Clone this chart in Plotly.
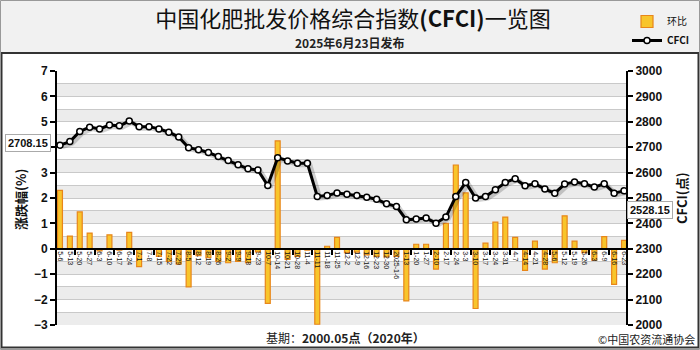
import plotly.graph_objects as go
import numpy as np

# ---------------- data ----------------
dates = ["5-6","5-13","5-20","5-27","6-3","6-10","6-17","6-24","7-1","7-8","7-15","7-22","7-29",
         "8-5","8-12","8-19","8-26","9-2","9-9","9-18","9-23","10-7","10-14","10-21","10-28",
         "11-4","11-11","11-18","11-25","12-2","12-9","12-16","12-23","12-30","2025-1-6",
         "1-13","1-20","1-27","2-10","2-17","2-24","3-3","3-10","3-17","3-24","3-31",
         "4-7","4-14","4-21","4-28","5-6","5-12","5-19","5-26","6-3","6-9","6-16","6-23"]

mom_pct = [2.3, 0.5, 1.45, 0.62, -0.08, 0.55, -0.05, 0.65, -0.7, -0.03, -0.3, -0.5, -0.6,
           -1.5, -0.27, -0.35, -0.5, -0.55, -0.5, -0.55, -0.12, -2.15, 4.25, -0.42, -0.3,
           -0.05, -2.97, 0.1, 0.45, -0.15, -0.13, -0.24, -0.3, -0.32, -0.3,
           -2.05, 0.18, 0.18, -0.8, 1.0, 3.3, 2.2, -2.35, 0.22, 1.05, 1.25,
           0.45, -0.85, 0.3, -0.8, -0.55, 1.3, 0.3, -0.15, -0.45, 0.48, -1.4, 0.33]

cfci = [2708.15, 2722, 2762, 2779, 2772, 2787, 2784, 2803, 2781, 2781, 2772, 2759, 2740,
        2698, 2690, 2679, 2663, 2648, 2631, 2615, 2610, 2549, 2658, 2646, 2637,
        2637, 2506, 2510, 2520, 2515, 2510, 2503, 2495, 2477, 2467,
        2414, 2417, 2421, 2401, 2425, 2506, 2561, 2500, 2506, 2532, 2561,
        2576, 2548, 2556, 2535, 2519, 2555, 2563, 2556, 2543, 2556, 2519, 2528.15]

left_ticks = [-3, -2, -1, 0, 1, 2, 3, 4, 5, 6, 7]
right_ticks = [2000, 2100, 2200, 2300, 2400, 2500, 2600, 2700, 2800, 2900, 3000]

title_text = "中国化肥批发价格综合指数<b>(CFCI)</b>一览图"
subtitle_text = "2025年6月23日发布"
base_text = "基期：<b>2000.05点（2020年）</b>"
copyright_text = "©中国农资流通协会"

# ---------------- layout geometry ----------------
W, H = 700, 350
ML, MR, MT, MB = 57, 74, 71, 25
PW, PH = W - ML - MR, H - MT - MB

def px_x(p):
    return (p - ML) / PW

def px_y(p):
    return (H - MB - p) / PH

idx = np.arange(len(dates))
LAT = "Arial, 'Liberation Sans', sans-serif"
CJK = "'Noto Sans CJK SC', sans-serif"

fig = go.Figure()

fig.add_trace(go.Bar(
    x=idx, y=mom_pct, name="环比", width=0.5,
    marker=dict(color="#f8c52c", line=dict(color="#e8861a", width=1.2)),
    yaxis="y", xaxis="x",
))

# soft shadow of the index line
fig.add_trace(go.Scatter(
    x=idx + 0.25, y=[v - 6 for v in cfci], mode="lines", yaxis="y2", xaxis="x",
    line=dict(color="rgba(0,0,0,0.18)", width=5), showlegend=False, hoverinfo="skip",
))

fig.add_trace(go.Scatter(
    x=idx, y=cfci, name="<b>CFCI</b>", mode="lines+markers", yaxis="y2", xaxis="x",
    line=dict(color="#000000", width=3),
    marker=dict(symbol="circle", size=6, color="#ffffff", line=dict(color="#000000", width=1.5)),
))

shapes = []
# header background
shapes.append(dict(type="rect", xref="paper", yref="paper",
                   x0=px_x(0), x1=px_x(W), y0=px_y(53), y1=px_y(0),
                   fillcolor="#f1f1f1", line=dict(width=0), layer="below"))
# grey bands
for k in np.arange(-3, 7, 1.0):
    shapes.append(dict(type="rect", xref="paper", yref="y", x0=0, x1=1,
                       y0=k, y1=k + 0.5, fillcolor="#ececec",
                       line=dict(width=0), layer="below"))
# frame of the lower area
shapes.append(dict(type="rect", xref="paper", yref="paper",
                   x0=px_x(1.5), x1=px_x(698.5), y0=px_y(347.5), y1=px_y(53),
                   line=dict(color="#333333", width=2), fillcolor="rgba(0,0,0,0)"))
# outer border
shapes.append(dict(type="rect", xref="paper", yref="paper",
                   x0=px_x(0.5), x1=px_x(699.5), y0=px_y(349.5), y1=px_y(0.5),
                   line=dict(color="#999999", width=1), fillcolor="rgba(0,0,0,0)"))

C = dict(xanchor="center", yanchor="middle", showarrow=False)
annotations = [
    dict(text=subtitle_text, xref="paper", yref="paper", x=px_x(350), y=px_y(42.5),
         font=dict(family=CJK, size=12, color="#222222", weight="bold"), **C),
    dict(text=f"{cfci[0]:.2f}", xref="paper", yref="y2", x=px_x(28), y=cfci[0] + 7,
         font=dict(family=LAT, size=11, color="#111111", weight="bold"),
         bgcolor="#ffffff", bordercolor="#aaaaaa", borderwidth=1, borderpad=2, **C),
    dict(text=f"{cfci[-1]:.2f}", xref="paper", yref="paper", x=px_x(650), y=px_y(210),
         font=dict(family=LAT, size=11, color="#111111", weight="bold"),
         bgcolor="#ffffff", bordercolor="#aaaaaa", borderwidth=1, borderpad=2, **C),
    dict(text=base_text, xref="paper", yref="paper", x=px_x(345), y=px_y(337),
         font=dict(family=CJK, size=12, color="#222222"), **C),
    dict(text=copyright_text, xref="paper", yref="paper", x=px_x(697), y=px_y(339),
         font=dict(family=CJK, size=11, color="#222222"),
         xanchor="right", yanchor="middle", showarrow=False),
    dict(text="<b>涨跌幅(%)</b>", xref="paper", yref="paper", x=px_x(20), y=px_y(200),
         textangle=-90, font=dict(family=CJK, size=13, color="#111111"), **C),
    dict(text="<b>CFCI(点)</b>", xref="paper", yref="paper", x=px_x(681), y=px_y(198),
         textangle=-90, font=dict(family=CJK, size=13, color="#111111"), **C),
]

fig.update_layout(
    width=W, height=H,
    margin=dict(l=ML, r=MR, t=MT, b=MB, autoexpand=False),
    paper_bgcolor="#ffffff", plot_bgcolor="#ffffff",
    title=dict(text=title_text, x=px_x(353), xref="paper", xanchor="center",
               y=1 - 19 / H, yref="container", yanchor="middle",
               font=dict(family=CJK, size=22, color="#111111")),
    showlegend=True,
    legend=dict(x=px_x(627), y=px_y(7), xanchor="left", yanchor="top",
                bgcolor="rgba(0,0,0,0)", font=dict(family=CJK, size=10, color="#111111"),
                itemwidth=30, tracegroupgap=0),
    bargap=0.5,
    xaxis=dict(range=[-0.3, len(dates) - 0.8], anchor="free", position=0.3,
               tickmode="array", tickvals=idx, ticktext=dates, tickangle=90,
               tickfont=dict(family=LAT, size=7, color="#111111"),
               ticks="", showgrid=False, zeroline=False,
               showline=True, linecolor="#000000", linewidth=2,
               minor=dict(tick0=1.5, dtick=2, ticks="outside", ticklen=5,
                          tickwidth=2, tickcolor="#000000", showgrid=False),
               automargin=False),
    yaxis=dict(range=[-3, 7], tickvals=left_ticks, showgrid=True, gridcolor="#c9c9c9",
               gridwidth=1, zeroline=False, showline=True, linecolor="#000000", linewidth=2,
               ticks="outside", ticklen=5, tickwidth=2, tickcolor="#000000",
               tickfont=dict(family=LAT, size=12, color="#111111", weight="bold"),
               minor=dict(dtick=0.5, tick0=0, showgrid=True, gridcolor="#c9c9c9", gridwidth=1),
               automargin=False),
    yaxis2=dict(range=[2000, 3000], tickvals=right_ticks, overlaying="y", side="right",
                anchor="x", showgrid=False, zeroline=False, showline=True,
                linecolor="#000000", linewidth=2,
                ticks="outside", ticklen=5, tickwidth=2, tickcolor="#000000",
                tickfont=dict(family=LAT, size=12, color="#111111", weight="bold"),
                automargin=False),
    shapes=shapes,
    annotations=annotations,
)

fig.write_html("out.html")
